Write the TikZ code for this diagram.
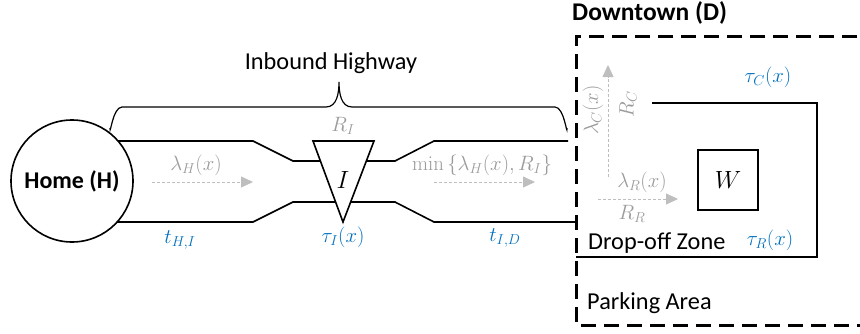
\documentclass[tikz,border=0pt]{standalone}
\usepackage[no-math]{fontspec}
\setmainfont{Carlito}
\usetikzlibrary{arrows.meta}
\definecolor{mblue}{RGB}{0,112,192}
\definecolor{lblgray}{RGB}{155,155,155}
\definecolor{arrgray}{RGB}{190,190,190}
\tikzset{
  road/.style={line width=1.6pt, line join=miter},
  txt/.style={font=\fontsize{24.3}{28}\selectfont, inner sep=0pt},
  btxt/.style={font=\fontsize{24}{28}\selectfont\bfseries, inner sep=0pt},
  mlbl/.style={font=\fontsize{20}{24}\selectfont, inner sep=0pt},
  bigm/.style={font=\fontsize{23}{27}\selectfont, inner sep=0pt},
  glbl/.style={mlbl, text=lblgray},
  blbl/.style={mlbl, text=mblue},
  flow/.style={draw=arrgray, line width=0.8pt, dash pattern=on 3pt off 2pt,
     -{Triangle[length=12pt,width=11pt]}},
  dtbox/.style={line width=3pt, dash pattern=on 15pt off 8pt},
}
\begin{document}
\begin{tikzpicture}[x=1pt,y=-1pt]
\clip (0,0) rectangle (860,333);
\useasboundingbox (0,0) rectangle (860,333);

% Home
\node[circle, draw, line width=1.6pt, minimum size=122pt, btxt] (H) at (72,181) {Home (H)};

% highway lines
\coordinate (t0) at (118,141);
\coordinate (b0) at (117,222);
\draw[road] (t0) -- (253,141) -- (293,161) -- (395,161) -- (434,141) -- (568,141);
\draw[road] (b0) -- (253,222) -- (293,202) -- (395,202) -- (434,222) -- (576,222);

% intersection triangle
\draw[road, fill=white] (313,141) -- (374,141) -- (343,222) -- cycle;
\node[bigm] (I) at (343,180) {$I$};

% brace
\draw[line width=1.2pt] (110,128) to[out=-90,in=180] (122,107) -- (326,107)
   to[out=0,in=-90] (339,82) to[out=-90,in=180] (352,107) -- (555,107)
   to[out=0,in=-90] (567,128);
\node[txt] (IH) at (331,63) {Inbound Highway};

% labels on highway
\node[glbl] (RI) at (343,126) {$R_I$};
\node[blbl] (tauI) at (343,237) {$\tau_I(x)$};
\node[blbl] (tHI) at (180,240) {$t_{H,I}$};
\node[blbl] (tID) at (505,238) {$t_{I,D}$};

% flows
\coordinate (fa1) at (152,182); \coordinate (fa2) at (253,182);
\draw[flow] (fa1) -- (fa2);
\node[glbl] (lH) at (196,165) {$\lambda_H(x)$};
\coordinate (fb1) at (434,182); \coordinate (fb2) at (535,182);
\draw[flow] (fb1) -- (fb2);
\node[glbl] (mn) at (482,165) {$\min\left\{\lambda_H(x),R_I\right\}$};

% downtown
\draw[dtbox] (880,36) -- (576,36) -- (576,325) -- (880,325);
\node[font=\fontsize{25.5}{29}\selectfont\bfseries, inner sep=0pt, anchor=west] (DT) at (572,13) {Downtown (D)};

% drop-off zone
\draw[road] (652,103) -- (817,103) -- (817,257) -- (576,257);
\node[draw, line width=1.6pt, minimum size=60pt, bigm] (W) at (728,180) {$W$};

\coordinate (fc1) at (608,177); \coordinate (fc2) at (608,65);
\draw[flow] (fc1) -- (fc2);
\node[glbl, rotate=90] (lC) at (593,110) {$\lambda_C(x)$};
\node[glbl, rotate=90] (RC) at (628,104) {$R_C$};
\coordinate (fd1) at (598,199); \coordinate (fd2) at (678,199);
\draw[flow] (fd1) -- (fd2);
\node[glbl] (lR) at (642,182) {$\lambda_R(x)$};
\node[glbl] (RR) at (632,214) {$R_R$};

\node[blbl] (tauC) at (768,77) {$\tau_C(x)$};
\node[blbl] (tauR) at (770,240) {$\tau_R(x)$};
\node[txt, anchor=west] (DZ) at (588,243) {Drop-off Zone};
\node[txt, anchor=west] (PA) at (587,303) {Parking Area};
\end{tikzpicture}
\end{document}
